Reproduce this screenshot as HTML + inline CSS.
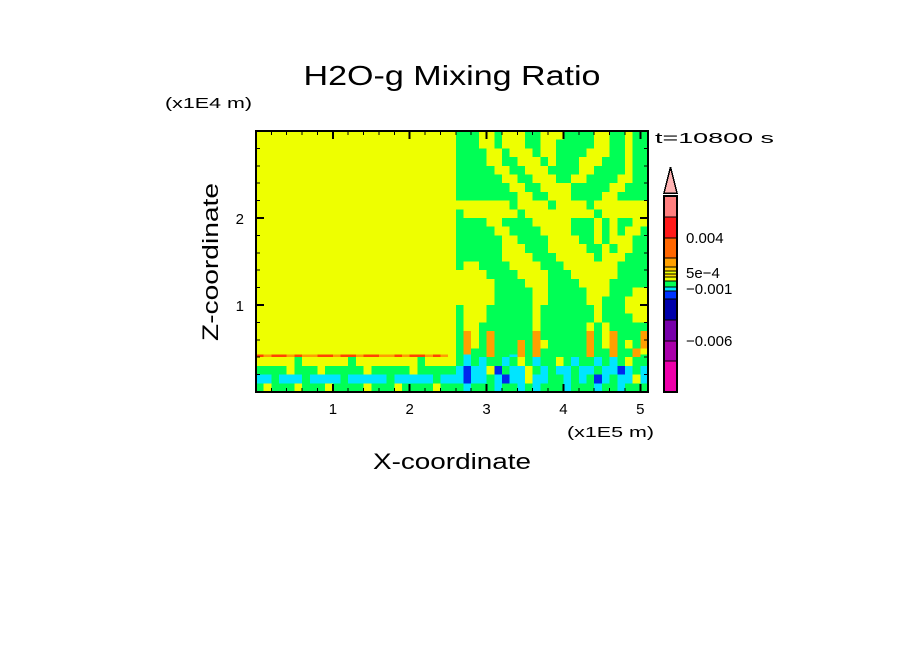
<!DOCTYPE html>
<html><head><meta charset="utf-8"><style>
html,body{margin:0;padding:0;background:#fff;}
svg{display:block;font-family:"Liberation Sans",sans-serif;}
</style></head><body>
<svg id="chart" width="904" height="654" viewBox="0 0 904 654" xmlns="http://www.w3.org/2000/svg" shape-rendering="crispEdges">
<rect width="904" height="654" fill="#fff"/>
<text x="452" y="85" font-size="28" text-anchor="middle" textLength="297" lengthAdjust="spacingAndGlyphs">H2O-g Mixing Ratio</text>
<text x="165" y="108" font-size="15" textLength="87" lengthAdjust="spacingAndGlyphs">(x1E4 m)</text>
<text x="655" y="143" font-size="15" textLength="119" lengthAdjust="spacingAndGlyphs">t=10800 s</text>
<text x="567" y="437" font-size="15" textLength="87" lengthAdjust="spacingAndGlyphs">(x1E5 m)</text>
<text x="452" y="469" font-size="22" text-anchor="middle" textLength="158" lengthAdjust="spacingAndGlyphs">X-coordinate</text>
<text x="0" y="0" font-size="22" text-anchor="middle" textLength="158" lengthAdjust="spacingAndGlyphs" transform="translate(218,262) rotate(-90)">Z-coordinate</text>
<g id="cells"></g>
<g id="axes"></g>
<g id="cbar"></g>
</svg>
<script>
// ---- data ----
const xMin = 0, xMax = 5.1, zMin = 0, zMax = 3.0;
const colStep = 0.1;
const zEdges = [3.0,2.9,2.8,2.7,2.6,2.5,2.4,2.3,2.2,2.1,2.0,1.9,1.8,1.7,1.6,1.5,1.4,1.3,1.2,1.1,1.0,0.9,0.8,0.7,0.6,0.5,0.43,0.4,0.3,0.2,0.1,0.0];
const leftRows = [
"YYYYYYYYYYYYYYYYYYYYYYYYYY","YYYYYYYYYYYYYYYYYYYYYYYYYY","YYYYYYYYYYYYYYYYYYYYYYYYYY","YYYYYYYYYYYYYYYYYYYYYYYYYY",
"YYYYYYYYYYYYYYYYYYYYYYYYYY","YYYYYYYYYYYYYYYYYYYYYYYYYY","YYYYYYYYYYYYYYYYYYYYYYYYYY","YYYYYYYYYYYYYYYYYYYYYYYYYY",
"YYYYYYYYYYYYYYYYYYYYYYYYYY","YYYYYYYYYYYYYYYYYYYYYYYYYY","YYYYYYYYYYYYYYYYYYYYYYYYYY","YYYYYYYYYYYYYYYYYYYYYYYYYY",
"YYYYYYYYYYYYYYYYYYYYYYYYYY","YYYYYYYYYYYYYYYYYYYYYYYYYY","YYYYYYYYYYYYYYYYYYYYYYYYYY","YYYYYYYYYYYYYYYYYYYYYYYYYY",
"YYYYYYYYYYYYYYYYYYYYYYYYYY","YYYYYYYYYYYYYYYYYYYYYYYYYY","YYYYYYYYYYYYYYYYYYYYYYYYYY","YYYYYYYYYYYYYYYYYYYYYYYYYY",
"YYYYYYYYYYYYYYYYYYYYYYYYYY","YYYYYYYYYYYYYYYYYYYYYYYYYY","YYYYYYYYYYYYYYYYYYYYYYYYYY","YYYYYYYYYYYYYYYYYYYYYYYYYY",
"YYYYYYYYYYYYYYYYYYYYYYYYYY",
"YYYYYYYYYYYYYYYYYYYYYYYYYY",
"RORROROORRORRORROORORROROY",
"YYYYYGYYYYYYGYYYYYYYYGYYYY",
"GGGGYGGGYGGGGGYGGGGGYGGGGG",
"CCGCCCGCCCCGCCCCCGCCCCCGCC",
"GYGGGYGGGYGGGGYGGGYGGGGYGG"
];
const rightRows = [
"GGGYYGYYYGGYYYGGGGYYGGYGG","GGGYYGYYYGGYYGGGGGYYGGYGG","GGGGYYGYYYGYYGGGGYYYGGYGG","GGGGYYGGYYYGYGGGYYYGGGYGG",
"GGGGGYYGGYYYGGGGYYGGGGYGG","GGGGGGYYGGYYYGGYYGGGGYYGG","GGGGGGGYYGGYYYYGGGGGYYGGG","GGGGGGGGYYGGYYYGGGGYYGGGG",
"YYYYYYYGYYYYGYYYYGYYYYYYY","GYYYYYYYGYYYYYYYYYGYYYYYY","GGGGYYGGGGYYYYYGGGYGYGGYY","GGGGGYYGGGGYYYYGGGYGYGYYG",
"GGGGGGYYGGGGYYYYGGYGYYYGG","GGGGGGYYYGGGYYYYYGGYGYYGG","GGGGGGYYYYGGGYYYYYGYYYGGG","GYYGGGGYYYYGGGYYYYYYYGGGG",
"YYYYGGGGYYYYGGGYYYYYYGGGG","YYYYYGGGGYYYGGGGYYYYGGGGG","YYYYYGGGGGYYGGGGGYYYGGGYY","YYYYYGGGGGYYGGGGGYYGGGYYY",
"GYYYGGGGGGYGGGGGGGYGGGYYY","GYYYGGGGGGYGGGGGGGYGGGGYY","GYYGGGGGGGYGGGGGGYGYGGGGG","GOYGOGGGGGOGGGGGGOGYOGGGO",
"GOYGOGGGOGOYGGGGGOGYOGYGO",
"GOGGOGGGOGOGGGGGGOGGOGGOY",
"GCGGOGGCOGOGGGGGGOGGOGGOG",
"GCGCGGCGYGCGGYGCGGCGCGYGG",
"CBCCYBGCCYGCGCCGCCGCCBCGC",
"CBCCGCBCCYCCGGCGCGBCGCCYC",
"GCGGGCGGCGCGGGCGGGCGGCGGG"
];
const palette = {Y:"#eeff00",G:"#00ff55",C:"#00e5ff",B:"#0028ee",O:"#ff9f00",R:"#ff4400"};
const cbarColors = ["#ff7f7f","#ff1a1a","#ff6600","#ff9f00","#ffcc00","#eeff00","#ffdd00","#eeff00","#00ff55","#00e5ff","#0033ff","#0000aa","#7700aa","#aa00aa","#ee00aa"];
const cbarEdges = [196,217,238,258,267,271,274,277,281,287,291,299,320,341,361,392];
const cbarLabels = ["0.004","5e-4","-0.001","-0.006"];
const cbarLabelY = [243,278,294,346];
const xTickLabels = ["1","2","3","4","5"];
const xTickVals = [1,2,3,4,5];
const zTickLabels = ["1","2"];
const zTickVals = [1,2];

// ---- axes ----
const L=256,R=648,T=131,B=392;
const sx = v => L + (v - xMin) / (xMax - xMin) * (R - L);
const sz = v => B - (v - zMin) / (zMax - zMin) * (B - T);
const NS="http://www.w3.org/2000/svg";
function mk(tag, attrs, parent){const e=document.createElementNS(NS,tag);for(const k in attrs)e.setAttribute(k,attrs[k]);parent.appendChild(e);return e;}
const cells=document.getElementById('cells'), axes=document.getElementById('axes'), cbar=document.getElementById('cbar');

for(let r=0;r<zEdges.length-1;r++){
  const row = leftRows[r] + rightRows[r];
  const y0 = sz(zEdges[r]), y1 = sz(zEdges[r+1]);
  for(let c=0;c<row.length;c++){
    const x0 = sx(c*colStep), x1 = sx(Math.min((c+1)*colStep, xMax));
    const el = mk('rect',{x:x0,y:y0,width:x1-x0+0.5,height:y1-y0+0.5,fill:palette[row[c]]},cells);
    
    
  }
}
const frame = mk('rect',{x:L,y:T,width:R-L,height:B-T,fill:"none",stroke:"#000","stroke-width":2},axes);


for(let v=0.2; v<xMax; v+=0.2){
  const x=sx(v), major=Math.abs(v-Math.round(v))<1e-6, len=major?8:4;
  mk('line',{x1:x,y1:B,x2:x,y2:B-len,stroke:"#000","stroke-width":major?2:1},axes);
  mk('line',{x1:x,y1:T,x2:x,y2:T+len,stroke:"#000","stroke-width":major?2:1},axes);
}
for(let v=0.2; v<zMax; v+=0.2){
  const y=sz(v), major=Math.abs(v-Math.round(v))<1e-6, len=major?8:4;
  mk('line',{x1:L,y1:y,x2:L+len,y2:y,stroke:"#000","stroke-width":major?2:1},axes);
  mk('line',{x1:R,y1:y,x2:R-len,y2:y,stroke:"#000","stroke-width":major?2:1},axes);
}
xTickVals.forEach((v,i)=>{
  const t=mk('text',{x:sx(v),y:B+22,"font-size":15,"text-anchor":"middle"},axes); t.textContent=xTickLabels[i];
  
  
});
zTickVals.forEach((v,i)=>{
  const t=mk('text',{x:L-12,y:sz(v)+6,"font-size":15,"text-anchor":"end"},axes); t.textContent=zTickLabels[i];
  
  
});
// colorbar
const CX0=664, CX1=677;
for(let i=0;i<cbarColors.length;i++){
  const s=mk('rect',{x:CX0,y:cbarEdges[i],width:CX1-CX0,height:cbarEdges[i+1]-cbarEdges[i],fill:cbarColors[i],stroke:"#000","stroke-width":1},cbar);
  
  
}
const tri=mk('polygon',{points:`${CX0},${cbarEdges[0]-3} ${(CX0+CX1)/2},167 ${CX1},${cbarEdges[0]-3}`,fill:"#ffb3b3",stroke:"#000","stroke-width":1.5},cbar);


mk('rect',{x:CX0,y:cbarEdges[0],width:CX1-CX0,height:B-cbarEdges[0],fill:"none",stroke:"#000","stroke-width":2},cbar);
cbarLabels.forEach((l,i)=>{
  const t=mk('text',{x:686,y:cbarLabelY[i],"font-size":15},cbar); t.textContent=l.replace('-','\u2212');
  
  
});
</script>
</body></html>
